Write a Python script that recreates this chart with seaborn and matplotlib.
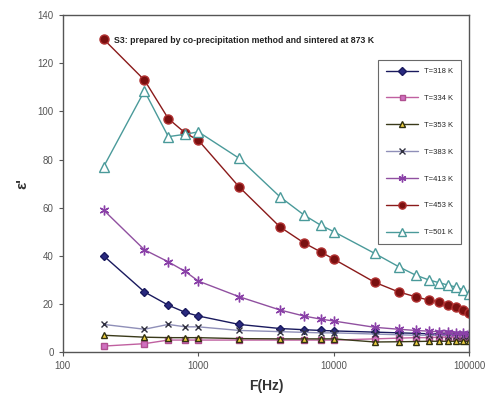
import matplotlib
matplotlib.use("Agg")
import matplotlib.pyplot as plt
import seaborn as sns
import pandas as pd

freq = [200, 400, 600, 800, 1000, 2000, 4000, 6000, 8000, 10000,
        20000, 30000, 40000, 50000, 60000, 70000, 80000, 90000, 100000]

t318 = [40, 25, 19.5, 16.5, 15, 11.5, 9.8, 9.3, 9.0, 8.8, 8.3, 8.0, 7.8, 7.6, 7.5, 7.4, 7.3, 7.2, 7.1]
t334 = [2.5, 3.5, 5.0, 5.0, 5.0, 5.0, 5.0, 5.0, 5.0, 5.0, 5.5, 5.8, 6.0, 6.0, 6.2, 6.2, 6.3, 6.3, 6.4]
t353 = [7.0, 6.2, 6.0, 6.0, 6.0, 5.6, 5.5, 5.5, 5.5, 5.5, 4.2, 4.3, 4.4, 4.5, 4.5, 4.5, 4.5, 4.5, 4.5]
t383 = [11.5, 9.5, 11.5, 10.5, 10.5, 9.0, 8.5, 8.2, 8.0, 8.0, 7.5, 7.2, 7.0, 7.0, 7.0, 6.8, 6.8, 6.7, 6.6]
t413 = [59, 42.5, 37.5, 33.5, 29.5, 23, 17.5, 15, 13.7, 12.9, 10.3, 9.5, 9.0, 8.7, 8.4, 8.2, 8.0, 7.8, 7.6]
t453 = [130, 113, 97, 91, 88, 68.6, 52, 45.4, 41.6, 38.6, 29, 25, 23, 21.6, 20.9, 19.6, 18.8, 17.5, 16.2]
t501 = [77, 108.5, 89.5, 90.5, 91.5, 80.5, 64.5, 57, 52.7, 50, 41, 35.5, 32, 30, 28.8, 27.8, 27, 25.8, 24]

labels = ["T=318 K", "T=334 K", "T=353 K", "T=383 K", "T=413 K", "T=453 K", "T=501 K"]
series = [t318, t334, t353, t383, t413, t453, t501]

xticks = [100, 1000, 10000, 100000]
xticklabels = ["100", "1000", "10000", "100000"]
yticks = [0, 20, 40, 60, 80, 100, 120, 140]

styles = [
    dict(color="#1a1a5e", marker="D", mfc="#2a2a80", mec="#1a1a5e", ms=4.5),
    dict(color="#c060a0", marker="s", mfc="#d070c0", mec="#b05090", ms=4.5),
    dict(color="#3a3a1a", marker="^", mfc="#f0d040", mec="#303010", ms=5),
    dict(color="#8f8fb8", marker="x", mfc="none", mec="#303040", ms=5),
    dict(color="#9050a0", marker=(6, 2, 0), mfc="none", mec="#8a40a8", ms=7),
    dict(color="#8a1a1a", marker="o", mfc="#7a1010", mec="#b03030", ms=6.5),
    dict(color="#4a9a9a", marker="^", mfc="white", mec="#4a9a9a", ms=6.5),
]

sns.set_style("white")
plt.rcParams["font.family"] = ["Liberation Sans", "DejaVu Sans"]

fig = plt.figure(figsize=(4.87, 4.08), dpi=100)
ax = fig.add_axes([0.129, 0.137, 0.835, 0.826])

for lab, vals, st in zip(labels, series, styles):
    df = pd.DataFrame({"F": freq, "eps": vals})
    sns.lineplot(data=df, x="F", y="eps", ax=ax, color=st["color"], linewidth=1.0,
                 marker=st["marker"], markerfacecolor=st["mfc"], markeredgecolor=st["mec"],
                 markersize=st["ms"], markeredgewidth=1.0, label=lab)

ax.set_xscale("log")
ax.set_xlim(100, 100000)
ax.set_ylim(0, 140)
ax.set_xticks(xticks)
ax.set_xticklabels(xticklabels)
ax.set_yticks(yticks)
ax.minorticks_off()
ax.tick_params(axis="both", labelsize=7, colors="#555555", length=3, width=0.8,
               direction="out", bottom=True, left=True)
for s in ax.spines.values():
    s.set_color("#555555")
    s.set_linewidth(1.0)

ax.set_xlabel("F(Hz)", fontsize=10, fontweight="bold", color="#333333", labelpad=6)
ax.set_ylabel("ε'", fontsize=11, fontweight="bold", color="#333333", rotation=90, labelpad=6)

ax.text(0.125, 0.926, "S3: prepared by co-precipitation method and sintered at 873 K",
        transform=ax.transAxes, fontsize=6.3, fontweight="bold", color="#222222",
        va="center", ha="left")

leg = ax.legend(loc="upper left", bbox_to_anchor=(0.775, 0.866), fontsize=5.5,
                frameon=True, fancybox=False, edgecolor="#444444", labelspacing=2.55,
                handlelength=4.2, borderpad=1.0, borderaxespad=0.0, markerscale=0.8)
leg.get_frame().set_linewidth(0.8)

fig.savefig("out.png", dpi=100)
